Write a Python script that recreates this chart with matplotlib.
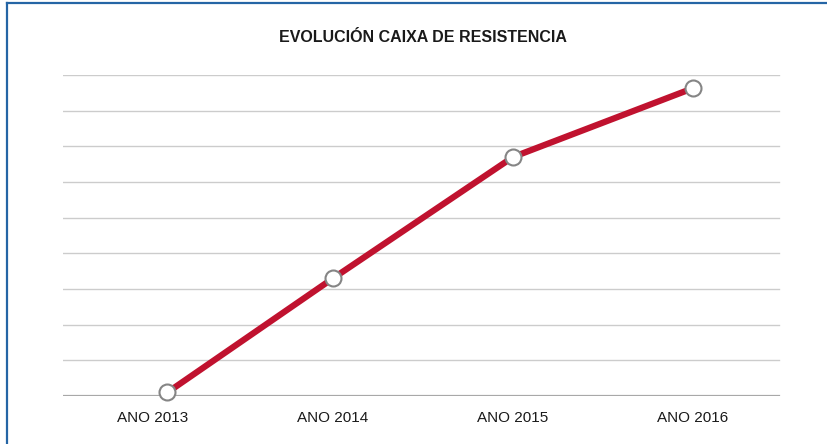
import matplotlib
matplotlib.use('Agg')
import matplotlib.pyplot as plt
from matplotlib.lines import Line2D

# datos
anos = ['ANO 2013', 'ANO 2014', 'ANO 2015', 'ANO 2016']
x_pos = [0.08, 1.0, 2.0, 3.0]
valores = [0.1, 3.3, 6.7, 8.63]
grid_vals = list(range(0, 10))

plt.rcParams['font.family'] = ['Liberation Sans', 'DejaVu Sans']

fig = plt.figure(figsize=(8.27, 4.44), dpi=100)
ax = fig.add_axes([63 / 827, 48 / 444, 720 / 827, 321 / 444])

for g in grid_vals[1:]:
    ax.axhline(g, xmax=716 / 720, color='#cccccc', linewidth=1.0, zorder=1)
ax.axhline(0, xmax=716 / 720, color='#a8a8a8', linewidth=1.6, zorder=1)

ax.plot(x_pos, valores, color='#c0122f', linewidth=4.5, solid_capstyle='butt',
        marker='o', markersize=11.5, markerfacecolor='white',
        markeredgecolor='#858585', markeredgewidth=1.5, zorder=3, clip_on=False)

ax.set_xlim(-0.5, 3.5)
ax.set_ylim(0, 9)
ax.set_xticks(range(len(anos)))
ax.set_xticklabels(anos, fontsize=11, color='#1a1a1a')
ax.set_yticks([])
ax.tick_params(axis='x', length=0, pad=11)
for s in ax.spines.values():
    s.set_visible(False)

fig.text(423 / 827, 1 - 37 / 444, 'EVOLUCIÓN CAIXA DE RESISTENCIA', ha='center', va='center',
         fontsize=11.5, fontweight='bold', color='#1a1a1a')

# marco azul
fig.add_artist(Line2D([7 / 827, 7 / 827], [0, 1 - 3 / 444], color='#2565a5', linewidth=1.6))
fig.add_artist(Line2D([7 / 827, 1], [1 - 3 / 444, 1 - 3 / 444], color='#2565a5', linewidth=1.6))

fig.savefig('out.png', dpi=100)
